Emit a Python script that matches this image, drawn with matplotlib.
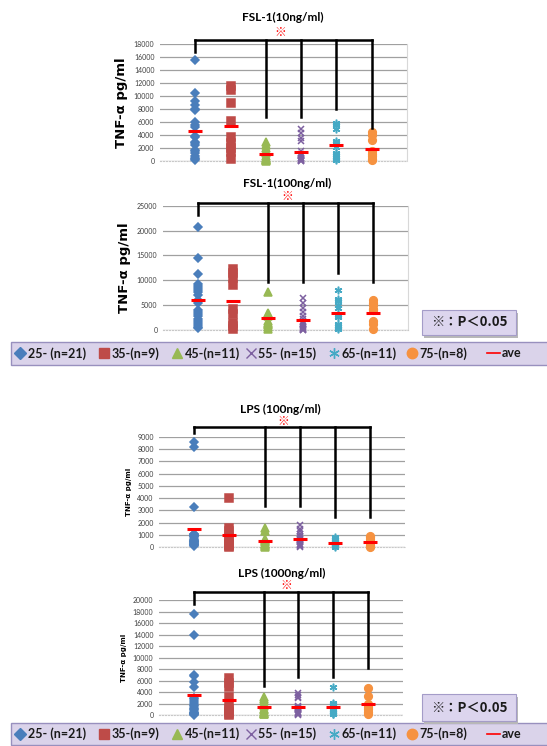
import matplotlib.pyplot as plt
from matplotlib.lines import Line2D
from matplotlib.patches import FancyBboxPatch
import numpy as np

plt.rcParams['font.family'] = ['Lato', 'Noto Sans CJK JP', 'DejaVu Sans']

groups = ['25-', '35-', '45-', '55-', '65-', '75-']
legend_labels = ['25- (n=21)', '35-(n=9)', '45-(n=11)', '55- (n=15)', '65-(n=11)', '75-(n=8)']
colors = ['#4A7EBB', '#BE4B48', '#98B954', '#7D60A0', '#46AAC5', '#F69240']
markers = ['D', 's', '^', 'x', (6, 2, 0), 'o']
msizes = [4.5, 5.5, 5.5, 4.5, 5.5, 5.5]

# TNF-alpha (pg/ml) per age group
fsl_10 = [
    [15600, 10400, 9200, 8600, 8000, 7800, 6000, 5500, 5300, 3900, 3700,
     2900, 2700, 2500, 1700, 1500, 1200, 800, 500, 300, 100],
    [11600, 10900, 9000, 6200, 3700, 2800, 2000, 1400, 300],
    [2900, 2500, 2000, 1500, 1200, 800, 500, 300, 200, 100, 0],
    [4900, 4300, 3500, 3000, 1500, 1100, 900, 700, 500, 400, 300, 200, 100, 50, 0],
    [5900, 5600, 4900, 3100, 2700, 2200, 1200, 900, 600, 300, 200],
    [4400, 4000, 3300, 1500, 1000, 700, 300, 100],
]
fsl_100 = [
    [20800, 14400, 11200, 9200, 8800, 8400, 8000, 7600, 7000, 6000, 5500,
     4000, 3700, 3300, 2800, 2300, 1900, 1500, 1100, 700, 400],
    [12200, 11500, 10500, 9000, 4200, 3200, 1500, 800, 200],
    [7600, 3500, 3200, 3000, 2800, 1800, 1500, 1200, 1000, 700, 200],
    [6500, 5500, 4500, 3600, 2800, 2200, 1600, 1200, 900, 600, 400, 300, 200, 100, 50],
    [8100, 6300, 5800, 5000, 4500, 3000, 2600, 1200, 800, 500, 200],
    [6000, 5500, 5000, 4300, 4000, 1800, 1200, 300],
]
lps_100 = [
    [8600, 8200, 3300, 1100, 1050, 1000, 950, 900, 800, 700, 600,
     550, 500, 450, 400, 350, 300, 250, 200, 150, 100],
    [4000, 1600, 1300, 800, 500, 300, 200, 100, 50],
    [1550, 1300, 700, 600, 500, 400, 300, 300, 200, 100, 50],
    [1800, 1500, 1300, 1100, 900, 800, 700, 600, 500, 400, 300, 200, 150, 100, 50],
    [800, 700, 600, 500, 400, 300, 300, 200, 200, 100, 50],
    [900, 800, 700, 500, 400, 200, 100, 50],
]
lps_1000 = [
    [17600, 14000, 7000, 6800, 5800, 4900, 3000, 2700, 2400, 2100, 1800,
     1600, 1300, 1000, 800, 600, 400, 300, 200, 100, 50],
    [6500, 5500, 4900, 3200, 1800, 1000, 500, 200, 50],
    [3200, 2800, 2400, 2000, 1500, 1100, 800, 600, 400, 200, 100],
    [3900, 3500, 3200, 2900, 1600, 1400, 1200, 1000, 800, 600, 400, 300, 200, 100, 50],
    [4800, 2100, 1900, 1700, 1400, 1100, 800, 600, 400, 200, 100],
    [4700, 3300, 2000, 1800, 1400, 1000, 600, 100],
]

# significance brackets: bar height and where each leg stops (None = no leg)
bracket_tops = [18600, 25500, 9780, 21450]
bracket_legs = [
    [16800, None, 6800, 6800, 8000, 5000],
    [23100, None, 9700, 9700, 11400, 9700],
    [9270, None, 3360, 3360, 2440, 2440],
    [19300, None, 5040, 6670, 6670, 8120],
]

panels = [
    dict(title='FSL-1(10ng/ml)', data=fsl_10, ymax=18000, step=2000,
         rect=[0.2925, 0.7842, 0.4516, 0.1568], title_xy=(0.517, 0.977),
         mark_xy=(0.512, 0.957), ylab=9.5, frame=True),
    dict(title='FSL-1(100ng/ml)', data=fsl_100, ymax=25000, step=5000,
         rect=[0.298, 0.5576, 0.448, 0.1667], title_xy=(0.525, 0.7534),
         mark_xy=(0.525, 0.736), ylab=9.5, frame=True),
    dict(title='LPS (100ng/ml)', data=lps_100, ymax=9000, step=1000,
         rect=[0.2912, 0.2664, 0.449, 0.1482], title_xy=(0.512, 0.4505),
         mark_xy=(0.517, 0.4345), ylab=5, frame=False),
    dict(title='LPS (1000ng/ml)', data=lps_1000, ymax=20000, step=2000,
         rect=[0.2907, 0.04155, 0.446, 0.1541], title_xy=(0.515, 0.2306),
         mark_xy=(0.524, 0.2145), ylab=5, frame=False),
]

fig = plt.figure(figsize=(5.47, 7.46), dpi=100)
x = np.arange(1, len(groups) + 1)

for p, top, legs in zip(panels, bracket_tops, bracket_legs):
    ax = fig.add_axes(p['rect'])
    for i, vals in enumerate(p['data']):
        ax.plot([x[i]] * len(vals), vals, linestyle='none', marker=markers[i],
                ms=msizes[i], color=colors[i], mec=colors[i], mew=1.1,
                clip_on=False, zorder=3)
        ax.plot(x[i], np.mean(vals), marker='_', ms=10, mew=2.2,
                color='#FF0000', clip_on=False, zorder=4)

    # bracket
    ax.plot([x[0], x[-1]], [top, top], color='black', lw=1.8,
            clip_on=False, solid_capstyle='projecting', zorder=5)
    for xi, leg in zip(x, legs):
        if leg is not None:
            ax.plot([xi, xi], [top, leg], color='black', lw=1.8,
                    clip_on=False, zorder=5)

    ax.set_xlim(0, 7)
    ax.set_ylim(0, p['ymax'])
    ax.set_xticks([])
    ax.set_yticks(np.arange(0, p['ymax'] + 1, p['step']))
    ax.tick_params(axis='y', length=0, labelsize=5, labelcolor='#404040', pad=4)
    ax.grid(axis='y', color='#A0A0A0', lw=0.9)
    ax.set_axisbelow(True)
    for side in ['left', 'top']:
        ax.spines[side].set_visible(False)
    ax.spines['bottom'].set_color('#C8C8C8')
    ax.spines['bottom'].set_linestyle(':')
    if p['frame']:
        ax.spines['right'].set_color('#D8D8D8')
        ax.spines['right'].set_linewidth(0.8)
    else:
        ax.spines['right'].set_visible(False)
    ax.set_ylabel('TNF-α pg/ml', fontsize=p['ylab'], fontweight='bold',
                  family=['DejaVu Sans'], labelpad=4)

    fig.text(*p['title_xy'], p['title'], ha='center', va='center',
             fontsize=8.5, fontweight='bold')
    fig.text(*p['mark_xy'], '※', ha='center', va='center', color='red',
             fontsize=8.5, family=['Noto Sans CJK JP', 'DejaVu Sans'])


def draw_legend(y0, h, pbox_y0, pbox_h):
    box = FancyBboxPatch((0.02, y0), 0.985, h, boxstyle='square,pad=0',
                         transform=fig.transFigure, facecolor='#DAD3EA',
                         edgecolor='#9890BE', lw=1.0)
    fig.add_artist(box)
    yc = y0 + h / 2
    mark_x = [0.037, 0.19, 0.324, 0.458, 0.61, 0.753]
    for i, lab in enumerate(legend_labels):
        fig.add_artist(Line2D([mark_x[i]], [yc], transform=fig.transFigure,
                              marker=markers[i], ms=msizes[i] + 2,
                              color=colors[i], mec=colors[i], mew=1.0,
                              linestyle='none'))
        fig.text(mark_x[i] + 0.014, yc, lab, ha='left', va='center',
                 fontsize=9, fontweight='bold', color='#1A1A1A')
    fig.add_artist(Line2D([0.89, 0.914], [yc, yc], transform=fig.transFigure,
                          color='#FF0000', lw=1.2))
    fig.text(0.918, yc, 'ave', ha='left', va='center', fontsize=9,
             fontweight='bold', color='#1A1A1A')

    # significance note box with a soft shadow
    shadow = FancyBboxPatch((0.775, pbox_y0 - 0.004), 0.172, pbox_h,
                            boxstyle='square,pad=0', transform=fig.transFigure,
                            facecolor='#B8B8B8', edgecolor='none')
    fig.add_artist(shadow)
    pbox = FancyBboxPatch((0.771, pbox_y0), 0.172, pbox_h,
                          boxstyle='square,pad=0', transform=fig.transFigure,
                          facecolor='#DCD5EE', edgecolor='#A49CC8', lw=0.8)
    fig.add_artist(pbox)
    fig.text(0.859, pbox_y0 + pbox_h / 2, '※：P＜0.05', ha='center', va='center',
             fontsize=9.5, fontweight='bold',
             family=['Noto Sans CJK JP', 'DejaVu Sans'], color='#1A1A1A')


draw_legend(0.5107, 0.031, 0.551, 0.034)
draw_legend(0.0013, 0.0295, 0.0335, 0.036)

fig.savefig('out.png', dpi=100)
